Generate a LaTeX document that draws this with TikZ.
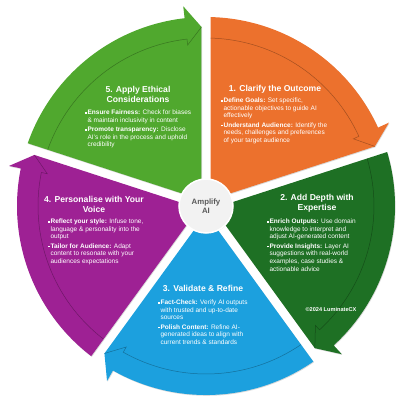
\documentclass[tikz,border=0pt]{standalone}
\usepackage{fontspec}
\setmainfont{Liberation Sans}
\usetikzlibrary{calc, shadows}
\definecolor{cOrange}{RGB}{236,113,45}
\definecolor{cForest}{RGB}{30,112,36}
\definecolor{cSky}{RGB}{28,160,222}
\definecolor{cPlum}{RGB}{158,33,148}
\definecolor{cLeaf}{RGB}{80,168,46}
\definecolor{cHub}{RGB}{242,242,242}
\definecolor{cHubText}{RGB}{90,90,90}
\newcommand{\bul}{\raisebox{0.9pt}{\rule{1.4pt}{1.4pt}}}
\tikzset{
	segfill/.style  ={drop shadow={shadow xshift=0.6pt, shadow yshift=-0.8pt, opacity=0.3}},
	segline/.style  ={line width=0.5pt},
	steptitle/.style={text=white, font=\fontsize{8.6}{10}\selectfont\bfseries, align=center, inner sep=0pt},
	stepbody/.style ={text=white, font=\fontsize{6.5}{7.7}\selectfont, align=left, inner sep=0pt, anchor=north west},
	hub/.style      ={circle, fill=cHub, draw=white, line width=1.5pt, minimum size=54pt, text=cHubText, font=\fontsize{7.8}{9.4}\selectfont\bfseries, align=center, drop shadow={shadow xshift=0.5pt, shadow yshift=-0.6pt, opacity=0.25}},
	credit/.style   ={text=white, font=\fontsize{5.6}{6}\selectfont\bfseries, inner sep=0pt},
}
\begin{document}
\begin{tikzpicture}[x=1pt, y=1pt]
	\useasboundingbox (-206,-206) rectangle (206,206);
	\foreach \bs/\col in {90/cOrange, 18/cForest, -54/cSky, -126/cPlum, 162/cLeaf}{
		\pgfmathsetmacro{\be}{\bs-72}
		\fill[\col, segfill] ($(\bs:15pt)+(\bs-90:4.5pt)$) -- (\bs-1.4:189pt) arc[start angle=\bs-1.4, end angle=\be+6.5, radius=189pt] -- (\be+6.5:201pt) -- ($(\be:179pt)+(\be+90:4.5pt)$) -- ($(\be:15pt)+(\be+90:4.5pt)$) -- cycle;
		\draw[\col!70!black, segline] (\bs-1.6:168pt) arc[start angle=\bs-1.6, end angle=\be+6.5, radius=168pt] -- (\be+6.5:162pt) -- ($(\be:179pt)+(\be+90:4.5pt)$);
	}
	\node[hub] (hub) at (0,0) {Amplify\\AI};
	\node[steptitle] (t1) at (69,117) {1. Clarify the Outcome};
	\node[stepbody] (b1) at (15,109) {\begin{tabular}{@{}l@{\hspace{1pt}}l@{}}
		\bul & \textbf{Define Goals:} Set specific,\\ & actionable objectives to guide AI\\ & effectively\\[1.5pt]
		\bul & \textbf{Understand Audience:} Identify the\\ & needs, challenges and preferences\\ & of your target audience\end{tabular}};
	\node[steptitle] (t2) at (111,3) {2. Add Depth with\\Expertise};
	\node[stepbody] (b2) at (61,-12) {\begin{tabular}{@{}l@{\hspace{1pt}}l@{}}
		\bul & \textbf{Enrich Outputs:} Use domain\\ & knowledge to interpret and\\ & adjust AI-generated content\\[1.5pt]
		\bul & \textbf{Provide Insights:} Layer AI\\ & suggestions with real-world\\ & examples, case studies \&\\ & actionable advice\end{tabular}};
	\node[credit] (copy) at (125,-103) {\textcopyright2024 LuminateCX};
	\node[steptitle] (t3) at (-3,-82) {3. Validate \& Refine};
	\node[stepbody] (b3) at (-48,-93) {\begin{tabular}{@{}l@{\hspace{1pt}}l@{}}
		\bul & \textbf{Fact-Check:} Verify AI outputs\\ & with trusted and up-to-date\\ & sources\\[1.5pt]
		\bul & \textbf{Polish Content:} Refine AI-\\ & generated ideas to align with\\ & current trends \& standards\end{tabular}};
	\node[steptitle] (t4) at (-112,2) {4. Personalise with Your\\Voice};
	\node[stepbody] (b4) at (-158,-12) {\begin{tabular}{@{}l@{\hspace{1pt}}l@{}}
		\bul & \textbf{Reflect your style:} Infuse tone,\\ & language \& personality into the\\ & output\\[1.5pt]
		\bul & \textbf{Tailor for Audience:} Adapt\\ & content to resonate with your\\ & audiences expectations\end{tabular}};
	\node[steptitle] (t5) at (-68,112) {5. Apply Ethical\\Considerations};
	\node[stepbody] (b5) at (-121,97) {\begin{tabular}{@{}l@{\hspace{1pt}}l@{}}
		\bul & \textbf{Ensure Fairness:} Check for biases\\ & \& maintain inclusivity in content\\[1.5pt]
		\bul & \textbf{Promote transparency:} Disclose\\ & AI's role in the process and uphold\\ & credibility\end{tabular}};
\end{tikzpicture}
\end{document}
